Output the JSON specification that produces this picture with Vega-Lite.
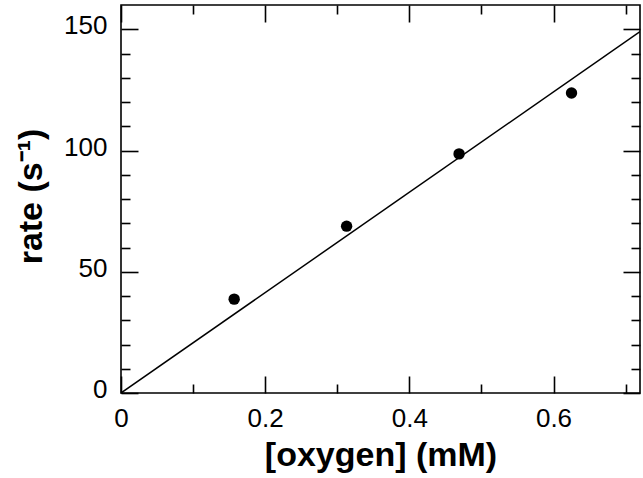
{
  "$schema": "https://vega.github.io/schema/vega-lite/v6.json",
  "autosize": {"type": "none"},
  "width": 519,
  "height": 388,
  "padding": {"left": 121, "top": 5, "right": 3, "bottom": 85},
  "background": "white",
  "config": {
    "view": {"stroke": "black", "strokeWidth": 1.6},
    "axis": {
      "domain": false,
      "grid": false,
      "tickColor": "black",
      "tickWidth": 1.6,
      "labelColor": "black",
      "labelFont": "Liberation Sans",
      "labelFontSize": 26,
      "titleColor": "black",
      "titleFont": "Liberation Sans",
      "titleFontWeight": "bold",
      "titleFontSize": 34,
      "labelFlush": false,
      "labelOverlap": false
    }
  },
  "layer": [
    {
      "data": {"values": [
        {"oxygen": 0.157, "rate": 38.7},
        {"oxygen": 0.313, "rate": 68.8},
        {"oxygen": 0.469, "rate": 98.6},
        {"oxygen": 0.625, "rate": 123.7}
      ]},
      "mark": {"type": "point", "shape": "circle", "filled": true, "color": "black", "opacity": 1, "size": 130},
      "encoding": {
        "x": {
          "field": "oxygen", "type": "quantitative",
          "scale": {"domain": [0, 0.72], "nice": false, "zero": false},
          "axis": {
            "orient": "bottom",
            "title": "[oxygen] (mM)",
            "titleX": 259.5, "titleY": 72, "titleAlign": "center", "titleBaseline": "alphabetic",
            "values": [0, 0.1, 0.2, 0.3, 0.4, 0.5, 0.6, 0.7],
            "format": "~g",
            "labelExpr": "indexof([0, 0.2, 0.4, 0.6], datum.value) >= 0 ? datum.label : ''",
            "tickSize": {"condition": {"test": "indexof([0, 0.2, 0.4, 0.6], datum.value) >= 0", "value": -17}, "value": -9},
            "labelPadding": 29
          }
        },
        "y": {
          "field": "rate", "type": "quantitative",
          "scale": {"domain": [0, 160], "nice": false, "zero": false},
          "axis": {
            "orient": "left",
            "title": "rate (s⁻¹)",
            "titleX": -80, "titleY": 191, "titleAngle": -90, "titleAlign": "center", "titleBaseline": "alphabetic",
            "values": [0, 10, 20, 30, 40, 50, 60, 70, 80, 90, 100, 110, 120, 130, 140, 150],
            "labelExpr": "datum.value % 50 === 0 ? datum.label : ''",
            "tickSize": {"condition": {"test": "datum.value % 50 === 0", "value": -17}, "value": -9},
            "labelPadding": 31,
            "labelOffset": -3.5
          }
        }
      }
    },
    {
      "data": {"values": [
        {"oxygen": 0, "rate": 0},
        {"oxygen": 0.72, "rate": 149}
      ]},
      "mark": {"type": "line", "color": "black", "strokeWidth": 1.5, "clip": true},
      "encoding": {
        "x": {
          "field": "oxygen", "type": "quantitative",
          "axis": {
            "orient": "top",
            "title": null,
            "labels": false,
            "values": [0, 0.1, 0.2, 0.3, 0.4, 0.5, 0.6, 0.7],
            "tickSize": {"condition": {"test": "indexof([0, 0.2, 0.4, 0.6], datum.value) >= 0", "value": -17}, "value": -9}
          }
        },
        "y": {
          "field": "rate", "type": "quantitative",
          "axis": {
            "orient": "right",
            "title": null,
            "labels": false,
            "values": [0, 10, 20, 30, 40, 50, 60, 70, 80, 90, 100, 110, 120, 130, 140, 150],
            "tickSize": {"condition": {"test": "datum.value % 50 === 0", "value": -17}, "value": -9}
          }
        }
      }
    }
  ],
  "resolve": {"scale": {"x": "shared", "y": "shared"}, "axis": {"x": "independent", "y": "independent"}}
}
